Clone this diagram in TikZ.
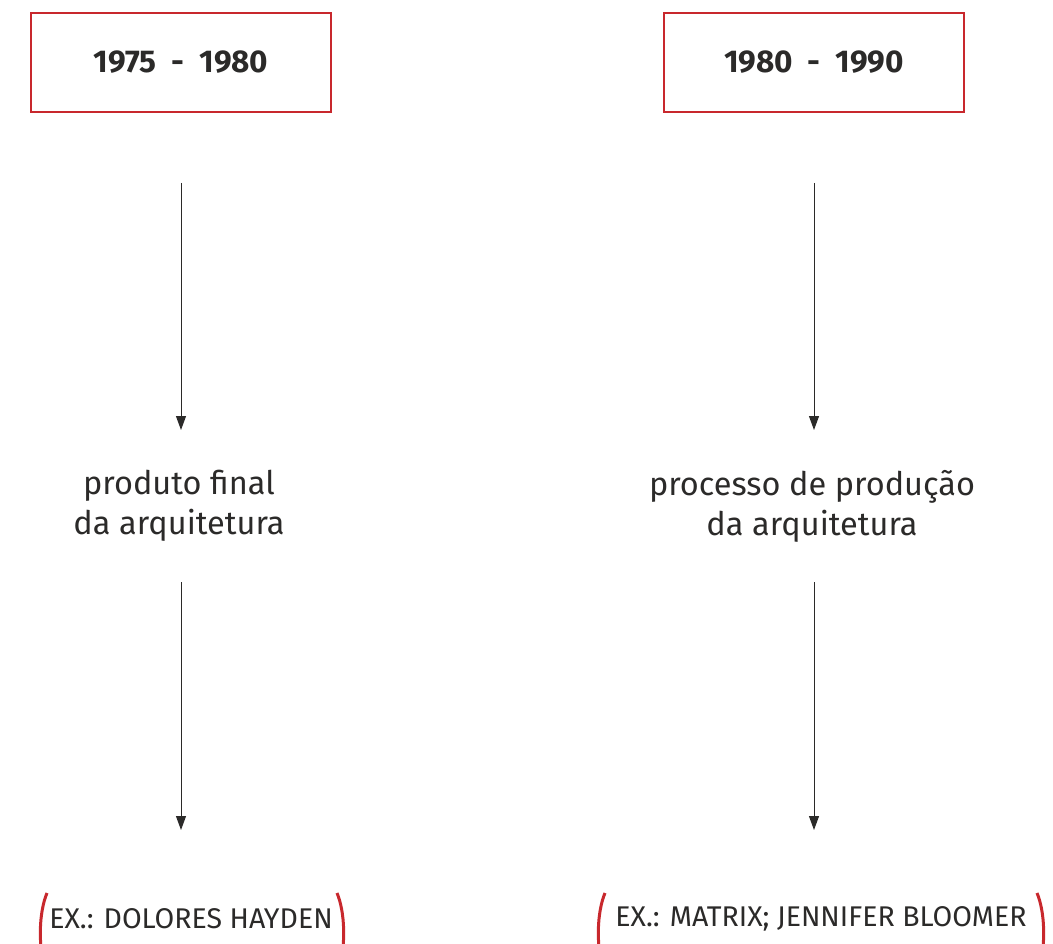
\documentclass[tikz,border=0pt]{standalone}
\usepackage{fontspec}
\setmainfont{Fira Sans}
\usetikzlibrary{arrows.meta}
\definecolor{boxred}{HTML}{C8282D}
\definecolor{ink}{HTML}{2B2A29}
\begin{document}
\begin{tikzpicture}[x=1pt,y=-1pt,
  yearbox/.style={draw=boxred,line width=2.5pt,minimum width=300pt,minimum height=99pt,inner sep=0pt,
    font=\fontsize{31.5}{36}\selectfont\bfseries,text=ink},
  stage/.style={align=center,inner sep=0pt,minimum height=80pt,
    font=\fontsize{32.5}{40}\selectfont,text=ink},
  example/.style={inner sep=0pt,minimum height=40pt,font=\fontsize{28.5}{30}\selectfont,text=ink},
  arr/.style={draw=ink,line width=1pt,-{Triangle[length=14pt,width=10pt]}},
  paren/.style={draw=boxred,line width=3pt}]
\useasboundingbox (0,0) rectangle (1053,944);
\clip (0,0) rectangle (1053,944);
% year boxes
\node[yearbox] (box1) at (181,62.5) {1975\ \ -\ \ 1980};
\node[yearbox] (box2) at (814,62.5) {1980\ \ -\ \ 1990};
% stages
\node[stage] (txt1) at (179,506) {produto final\\da arquitetura};
\node[stage] (txt2) at (812,506) {processo de produção\\da arquitetura};
% examples
\node[example,anchor=center] (ex1) at (191,919) {EX.: DOLORES HAYDEN};
\node[example,anchor=center] (ex2) at (821,919) {EX.: MATRIX; JENNIFER BLOOMER};
% arrow anchor points
\coordinate (a1s) at (181,183); \coordinate (a1e) at (181,430);
\coordinate (b1s) at (181,582); \coordinate (b1e) at (181,830);
\coordinate (a2s) at (814,183); \coordinate (a2e) at (814,430);
\coordinate (b2s) at (814,582); \coordinate (b2e) at (814,830);
\draw[arr] (a1s) -- (a1e);
\draw[arr] (b1s) -- (b1e);
\draw[arr] (a2s) -- (a2e);
\draw[arr] (b2s) -- (b2e);
% parentheses
\draw[paren] (47,893) .. controls (39,912) and (38,945) .. (45,968);
\draw[paren] (337,893) .. controls (345,912) and (346,945) .. (339,968);
\draw[paren] (605,893) .. controls (597,912) and (596,945) .. (603,968);
\draw[paren] (1037,893) .. controls (1045,912) and (1046,945) .. (1039,968);
\end{tikzpicture}
\end{document}
